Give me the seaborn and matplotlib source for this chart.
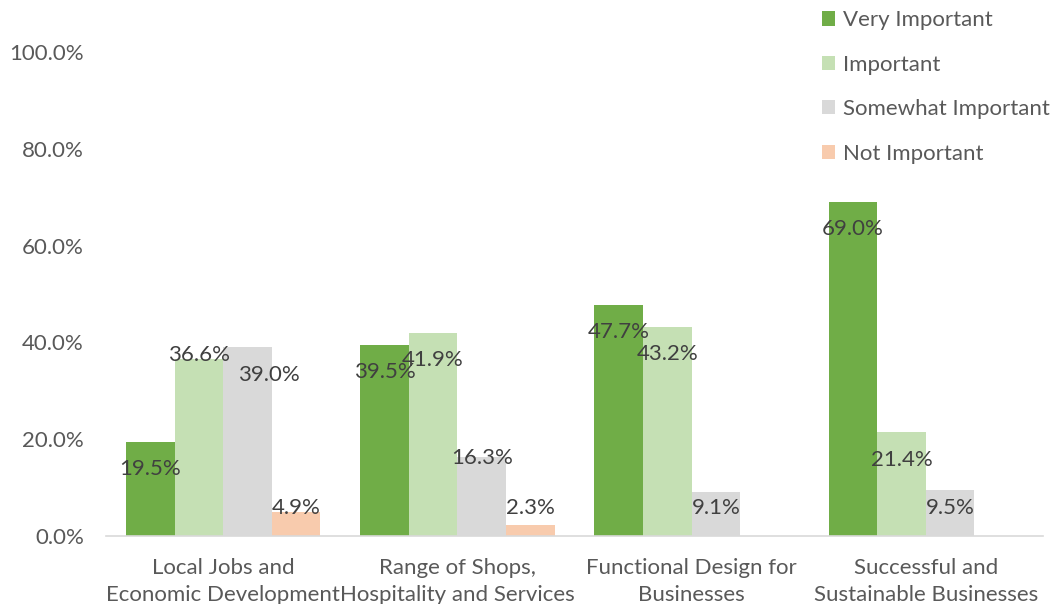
import matplotlib
matplotlib.use("Agg")
import matplotlib.pyplot as plt
import seaborn as sns
import pandas as pd
import numpy as np
from matplotlib.ticker import FuncFormatter
from matplotlib.patches import Patch

categories = ["Local Jobs and\nEconomic Development",
              "Range of Shops,\nHospitality and Services",
              "Functional Design for\nBusinesses",
              "Successful and\nSustainable Businesses"]
series = ["Very Important", "Important", "Somewhat Important", "Not Important"]
very_important = [19.5, 39.5, 47.7, 69.0]
important = [36.6, 41.9, 43.2, 21.4]
somewhat_important = [39.0, 16.3, 9.1, 9.5]
not_important = [4.9, 2.3, 0.0, 0.0]
colors = ["#70AD47", "#C5E0B4", "#D9D9D9", "#F8CBAD"]

values = [very_important, important, somewhat_important, not_important]
rows = []
for s, vals in zip(series, values):
    for c, v in zip(categories, vals):
        rows.append({"Category": c, "Series": s, "Value": v})
df = pd.DataFrame(rows)

sns.set_theme(style="white")
plt.rcParams['font.family'] = ['Lato', 'DejaVu Sans']

FS = 16
fig = plt.figure(figsize=(10.55, 6.04), dpi=100)
ax = fig.add_axes([106/1055, 1-536/604, (1043-106)/1055, (536-52)/604])

sns.barplot(data=df, x="Category", y="Value", hue="Series", order=categories,
            hue_order=series, palette=colors, width=0.83, gap=0, dodge=True,
            saturation=1, ax=ax, legend=False, linewidth=0)

ax.set_ylim(0, 100)
ax.set_xlim(-0.5, 3.5)
ax.set_yticks(np.arange(0, 101, 20))
ax.yaxis.set_major_formatter(FuncFormatter(lambda v, p: f"{v:.1f}%"))
ax.tick_params(axis='y', length=0, pad=16, labelsize=FS, labelcolor="#595959")
ax.tick_params(axis='x', length=0, pad=15.5, labelsize=FS, labelcolor="#595959")
for lab in ax.get_xticklabels():
    lab.set_linespacing(1.47)
ax.set_xlabel("")
ax.set_ylabel("")
for sp in ["left", "right", "top"]:
    ax.spines[sp].set_visible(False)
ax.spines["bottom"].set_color("#D9D9D9")
ax.spines["bottom"].set_linewidth(1.2)

# label placement tweaks (series index, category index) -> (dx, y)
overrides = {(1, 0): (0.0, 37.4), (2, 0): (0.09, 33.3), (2, 1): (0.0, 16.1)}
for si, cont in enumerate(ax.containers):
    for ci, bar in enumerate(cont):
        v = values[si][ci]
        if v <= 0:
            continue
        x = bar.get_x() + bar.get_width() / 2
        y = max(v - 5.6, 5.8)
        if (si, ci) in overrides:
            dx, y = overrides[(si, ci)]
            x += dx
        ax.text(x, y, f"{v:.1f}%", ha="center", va="center", fontsize=FS,
                color="#404040")

handles = [Patch(facecolor=c, edgecolor="none") for c in colors]
fig.legend(handles, series, loc="upper left", bbox_to_anchor=(802/1055, 1.016),
           frameon=False, fontsize=FS, labelcolor="#595959",
           handlelength=0.6, handleheight=0.6, handletextpad=0.35,
           labelspacing=1.1)

fig.savefig("out.png", dpi=100)
